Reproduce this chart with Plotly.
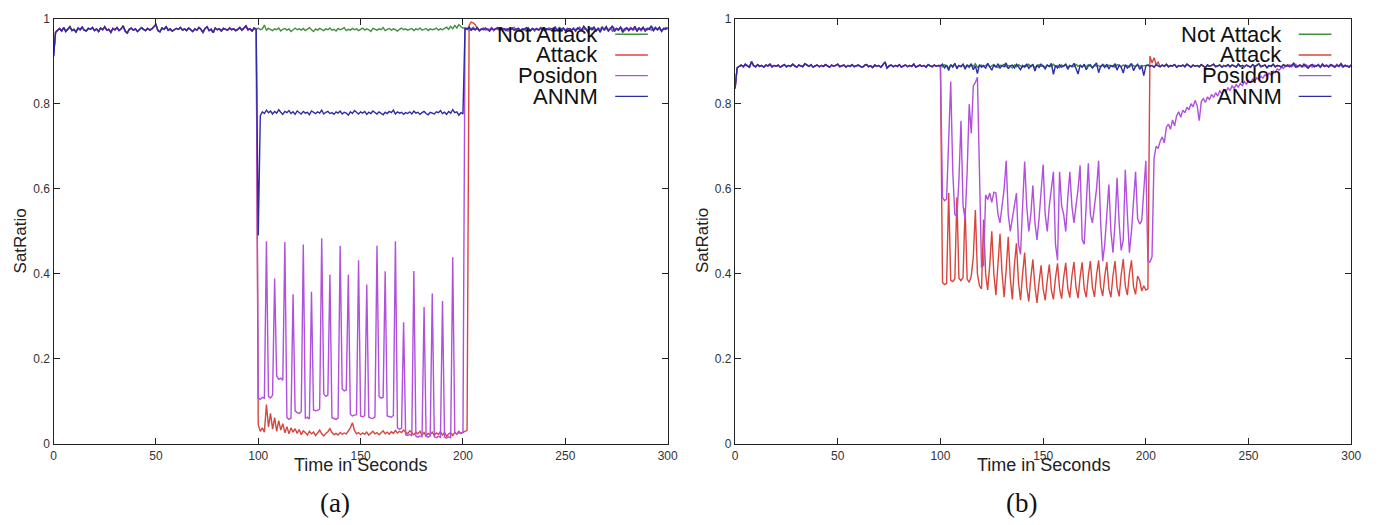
import plotly.graph_objects as go

# ---------------------------------------------------------------
# SatRatio traces, one sample per second.
# Each series is stored as segments: before attack (0-99 s),
# attack window (100-200 s) and recovery (201-300 s).
# ---------------------------------------------------------------

# ---------- panel (a) ----------
A_PRE = [0.912, 0.968, 0.973, 0.977, 0.971, 0.979, 0.970, 0.976, 0.981, 0.972,
         0.975, 0.969, 0.978, 0.974, 0.980, 0.973, 0.971, 0.977, 0.975, 0.979,
         0.972, 0.976, 0.970, 0.978, 0.974, 0.981, 0.973, 0.975, 0.968, 0.977,
         0.974, 0.979, 0.972, 0.976, 0.983, 0.971, 0.966, 0.975, 0.978, 0.973,
         0.976, 0.970, 0.974, 0.979, 0.975, 0.972, 0.977, 0.973, 0.976, 0.980,
         0.986, 0.972, 0.969, 0.978, 0.975, 0.981, 0.973, 0.976, 0.971, 0.974,
         0.977, 0.975, 0.979, 0.973, 0.976, 0.972, 0.978, 0.974, 0.970, 0.976,
         0.973, 0.979, 0.975, 0.968, 0.977, 0.981, 0.972, 0.975, 0.967, 0.978,
         0.974, 0.976, 0.971, 0.977, 0.975, 0.973, 0.978, 0.974, 0.976, 0.972,
         0.975, 0.979, 0.973, 0.977, 0.983, 0.974, 0.976, 0.971, 0.978, 0.975]

A_NOT_ATTACK_MID = [0.978, 0.974, 0.976, 0.985, 0.973, 0.977, 0.975, 0.972, 0.976, 0.974,
                    0.978, 0.971, 0.975, 0.977, 0.973, 0.976, 0.970, 0.975, 0.978, 0.974,
                    0.976, 0.973, 0.977, 0.972, 0.975, 0.979, 0.974, 0.970, 0.976, 0.973,
                    0.977, 0.975, 0.972, 0.976, 0.974, 0.978, 0.973, 0.975, 0.971, 0.977,
                    0.974, 0.976, 0.979, 0.972, 0.975, 0.973, 0.977, 0.974, 0.976, 0.972,
                    0.975, 0.978, 0.973, 0.976, 0.974, 0.970, 0.977, 0.975, 0.973, 0.976,
                    0.974, 0.979, 0.972, 0.975, 0.977, 0.973, 0.976, 0.974, 0.971, 0.975,
                    0.978, 0.974, 0.976, 0.973, 0.975, 0.977, 0.972, 0.976, 0.974, 0.978,
                    0.973, 0.975, 0.977, 0.972, 0.976, 0.974, 0.975, 0.978, 0.973, 0.976,
                    0.974, 0.977, 0.980, 0.975, 0.982, 0.976, 0.984, 0.978, 0.986, 0.981,
                    0.978]

A_ATTACK_MID = [0.045, 0.030, 0.038, 0.028, 0.093, 0.040, 0.072, 0.035, 0.062, 0.030,
                0.055, 0.033, 0.048, 0.026, 0.041, 0.024, 0.038, 0.028, 0.036, 0.025,
                0.034, 0.022, 0.031, 0.027, 0.021, 0.030, 0.024, 0.028, 0.020, 0.026,
                0.033, 0.024, 0.019, 0.025, 0.029, 0.036, 0.027, 0.022, 0.025, 0.021,
                0.027, 0.023, 0.026, 0.024, 0.030, 0.038, 0.050, 0.032, 0.024, 0.027,
                0.022, 0.026, 0.023, 0.028, 0.021, 0.025, 0.030, 0.024, 0.027, 0.022,
                0.026, 0.031, 0.024, 0.028, 0.023, 0.029, 0.025, 0.032, 0.026, 0.030,
                0.027, 0.033, 0.028, 0.024, 0.031, 0.027, 0.022, 0.028, 0.024, 0.030,
                0.021, 0.027, 0.019, 0.025, 0.022, 0.028, 0.020, 0.026, 0.023, 0.029,
                0.021, 0.027, 0.018, 0.024, 0.026, 0.020, 0.027, 0.023, 0.030, 0.025,
                0.028]

A_POSIDON_MID = [0.108, 0.105, 0.110, 0.108, 0.477, 0.112, 0.108, 0.115, 0.389, 0.160,
                 0.152, 0.155, 0.150, 0.475, 0.062, 0.058, 0.061, 0.352, 0.078, 0.074,
                 0.072, 0.076, 0.469, 0.060, 0.063, 0.059, 0.358, 0.080, 0.078, 0.079,
                 0.082, 0.484, 0.118, 0.112, 0.115, 0.398, 0.062, 0.060, 0.058, 0.061,
                 0.466, 0.130, 0.125, 0.127, 0.398, 0.070, 0.066, 0.068, 0.069, 0.432,
                 0.066, 0.064, 0.067, 0.375, 0.063, 0.061, 0.060, 0.064, 0.466, 0.112,
                 0.108, 0.110, 0.406, 0.066, 0.064, 0.063, 0.067, 0.477, 0.038, 0.035,
                 0.037, 0.286, 0.022, 0.020, 0.023, 0.019, 0.407, 0.018, 0.016, 0.019,
                 0.017, 0.322, 0.018, 0.016, 0.019, 0.354, 0.017, 0.015, 0.018, 0.016,
                 0.336, 0.016, 0.014, 0.017, 0.015, 0.439, 0.026, 0.024, 0.027, 0.025,
                 0.028]

A_ANNM_MID = [0.490, 0.772, 0.781, 0.777, 0.785, 0.779, 0.783, 0.776, 0.782, 0.778,
              0.786, 0.780, 0.775, 0.782, 0.779, 0.784, 0.777, 0.781, 0.775, 0.783,
              0.779, 0.776, 0.782, 0.778, 0.780, 0.774, 0.783, 0.779, 0.777, 0.781,
              0.778, 0.785, 0.776, 0.780, 0.782, 0.777, 0.779, 0.775, 0.781, 0.778,
              0.783, 0.776, 0.780, 0.778, 0.773, 0.781, 0.777, 0.784, 0.779, 0.776,
              0.781, 0.778, 0.782, 0.775, 0.780, 0.777, 0.783, 0.779, 0.776, 0.781,
              0.778, 0.774, 0.780, 0.777, 0.782, 0.779, 0.785, 0.776, 0.781, 0.778,
              0.780, 0.775, 0.779, 0.777, 0.781, 0.776, 0.783, 0.778, 0.780, 0.775,
              0.779, 0.782, 0.777, 0.774, 0.780, 0.778, 0.776, 0.781, 0.779, 0.784,
              0.777, 0.780, 0.775, 0.782, 0.778, 0.786, 0.779, 0.781, 0.773, 0.779,
              0.776]

A_POST_1 = [0.978, 0.975, 0.980, 0.973, 0.977, 0.974, 0.979, 0.972, 0.976, 0.974,
            0.978, 0.975, 0.971, 0.977, 0.974, 0.976, 0.979, 0.973, 0.975, 0.977,
            0.972, 0.976, 0.974, 0.978, 0.973, 0.975, 0.977, 0.971, 0.976, 0.974,
            0.979, 0.975, 0.972, 0.977, 0.974, 0.976, 0.973, 0.978, 0.975, 0.972,
            0.976, 0.974, 0.977, 0.975, 0.980, 0.973, 0.976, 0.974, 0.978, 0.972,
            0.975, 0.977, 0.974, 0.976, 0.971, 0.978, 0.975, 0.973, 0.982, 0.976,
            0.969, 0.978, 0.974, 0.980, 0.972, 0.977, 0.968, 0.979, 0.974, 0.981,
            0.971, 0.976, 0.983, 0.970, 0.977, 0.974, 0.980, 0.968, 0.976, 0.979,
            0.972, 0.977, 0.975, 0.982, 0.970, 0.978, 0.974, 0.980, 0.971, 0.977,
            0.975, 0.983, 0.972, 0.978, 0.974, 0.980, 0.970, 0.977, 0.975, 0.979]

A_POST_2 = [0.975, 0.978, 0.972, 0.976, 0.980, 0.974, 0.977, 0.971, 0.975, 0.978,
            0.973, 0.976, 0.974, 0.979, 0.972, 0.977, 0.975, 0.973, 0.978, 0.974,
            0.976, 0.971, 0.977, 0.975, 0.979, 0.973, 0.976, 0.974, 0.972, 0.977,
            0.975, 0.978, 0.973, 0.976, 0.971, 0.977, 0.974, 0.979, 0.972, 0.976,
            0.974, 0.978, 0.973, 0.977, 0.975, 0.972, 0.979, 0.974, 0.976, 0.973,
            0.977, 0.975, 0.972, 0.978, 0.974, 0.976, 0.980, 0.973, 0.975, 0.977,
            0.972, 0.976, 0.979, 0.974, 0.971, 0.977, 0.975, 0.980, 0.973, 0.976,
            0.974, 0.978, 0.971, 0.977, 0.975, 0.973, 0.979, 0.976, 0.972, 0.977,
            0.975, 0.979, 0.973, 0.976, 0.974, 0.978, 0.972, 0.977, 0.975, 0.974,
            0.978, 0.973, 0.976, 0.980, 0.974, 0.977, 0.972, 0.976, 0.979, 0.975]

# red recovers a couple of seconds later than the others (201-206 s)
A_ATTACK_POST_HEAD = [0.030, 0.032, 0.984, 0.992, 0.990, 0.986]

# ---------- panel (b) ----------
B_PRE = [0.836, 0.884, 0.888, 0.891, 0.887, 0.893, 0.889, 0.886, 0.899, 0.890,
         0.887, 0.892, 0.888, 0.890, 0.886, 0.891, 0.889, 0.893, 0.887, 0.890,
         0.888, 0.891, 0.886, 0.889, 0.892, 0.887, 0.890, 0.888, 0.893, 0.889,
         0.886, 0.891, 0.889, 0.887, 0.894, 0.890, 0.888, 0.892, 0.886, 0.889,
         0.891, 0.887, 0.890, 0.888, 0.892, 0.889, 0.886, 0.891, 0.888, 0.890,
         0.893, 0.887, 0.889, 0.891, 0.886, 0.890, 0.888, 0.892, 0.887, 0.889,
         0.891, 0.888, 0.886, 0.890, 0.892, 0.887, 0.889, 0.885, 0.891, 0.888,
         0.890, 0.886, 0.893, 0.898, 0.884, 0.889, 0.891, 0.887, 0.890, 0.888,
         0.892, 0.886, 0.889, 0.891, 0.887, 0.890, 0.888, 0.893, 0.886, 0.889,
         0.891, 0.888, 0.890, 0.886, 0.892, 0.889, 0.887, 0.891, 0.888, 0.890]

B_NOT_ATTACK_MID = [0.890, 0.887, 0.892, 0.888, 0.885, 0.891, 0.889, 0.893, 0.886, 0.890,
                    0.888, 0.892, 0.887, 0.890, 0.885, 0.891, 0.888, 0.894, 0.886, 0.889,
                    0.891, 0.887, 0.890, 0.893, 0.886, 0.889, 0.892, 0.888, 0.885, 0.891,
                    0.889, 0.893, 0.887, 0.890, 0.888, 0.884, 0.891, 0.887, 0.892, 0.889,
                    0.886, 0.890, 0.888, 0.893, 0.887, 0.891, 0.885, 0.889, 0.892, 0.888,
                    0.890, 0.886, 0.891, 0.889, 0.887, 0.893, 0.888, 0.890, 0.885, 0.891,
                    0.888, 0.892, 0.886, 0.890, 0.889, 0.887, 0.893, 0.888, 0.891, 0.886,
                    0.890, 0.887, 0.892, 0.889, 0.885, 0.891, 0.888, 0.890, 0.886, 0.893,
                    0.889, 0.887, 0.891, 0.888, 0.890, 0.886, 0.892, 0.889, 0.887, 0.891,
                    0.888, 0.890, 0.886, 0.892, 0.889, 0.887, 0.891, 0.888, 0.890, 0.889,
                    0.890]

B_ATTACK_MID = [0.886, 0.380, 0.375, 0.378, 0.590, 0.385, 0.382, 0.388, 0.580, 0.390,
                0.384, 0.392, 0.555, 0.388, 0.380, 0.395, 0.440, 0.550, 0.400, 0.372,
                0.365, 0.528, 0.400, 0.362, 0.420, 0.500, 0.400, 0.350, 0.420, 0.494,
                0.400, 0.345, 0.410, 0.487, 0.390, 0.340, 0.420, 0.472, 0.380, 0.338,
                0.400, 0.450, 0.370, 0.335, 0.390, 0.434, 0.370, 0.332, 0.380, 0.420,
                0.365, 0.338, 0.385, 0.422, 0.362, 0.340, 0.390, 0.425, 0.365, 0.342,
                0.392, 0.426, 0.366, 0.344, 0.395, 0.428, 0.368, 0.343, 0.393, 0.427,
                0.365, 0.345, 0.396, 0.430, 0.368, 0.346, 0.398, 0.432, 0.370, 0.348,
                0.395, 0.428, 0.366, 0.345, 0.396, 0.430, 0.368, 0.347, 0.398, 0.435,
                0.372, 0.350, 0.400, 0.432, 0.370, 0.352, 0.395, 0.385, 0.360, 0.372,
                0.362]

B_POSIDON_MID = [0.886, 0.580, 0.572, 0.576, 0.700, 0.852, 0.640, 0.540, 0.535, 0.620,
                 0.760, 0.560, 0.528, 0.640, 0.799, 0.730, 0.842, 0.850, 0.862, 0.640,
                 0.415, 0.420, 0.586, 0.575, 0.590, 0.568, 0.592, 0.590, 0.540, 0.520,
                 0.560, 0.600, 0.666, 0.540, 0.500, 0.530, 0.560, 0.590, 0.470, 0.446,
                 0.560, 0.664, 0.560, 0.500, 0.540, 0.608, 0.520, 0.480, 0.530, 0.600,
                 0.657, 0.540, 0.500, 0.560, 0.600, 0.640, 0.470, 0.432, 0.640, 0.560,
                 0.540, 0.500, 0.580, 0.640, 0.560, 0.520, 0.560, 0.600, 0.655, 0.480,
                 0.470, 0.560, 0.660, 0.540, 0.520, 0.560, 0.600, 0.666, 0.520, 0.430,
                 0.470, 0.540, 0.610, 0.500, 0.450, 0.520, 0.626, 0.520, 0.455, 0.480,
                 0.645, 0.540, 0.450, 0.500, 0.560, 0.640, 0.530, 0.517, 0.525, 0.600,
                 0.666]

B_ANNM_MID = [0.889, 0.893, 0.884, 0.891, 0.878, 0.892, 0.886, 0.895, 0.882, 0.890,
              0.887, 0.893, 0.881, 0.891, 0.888, 0.894, 0.880, 0.889, 0.871, 0.892,
              0.886, 0.890, 0.883, 0.895, 0.888, 0.879, 0.891, 0.886, 0.893, 0.884,
              0.890, 0.887, 0.896, 0.882, 0.889, 0.891, 0.884, 0.893, 0.887, 0.880,
              0.890, 0.886, 0.894, 0.883, 0.889, 0.892, 0.877, 0.891, 0.885, 0.893,
              0.888, 0.882, 0.891, 0.887, 0.895, 0.869, 0.890, 0.884, 0.892, 0.886,
              0.889, 0.893, 0.881, 0.890, 0.887, 0.895, 0.883, 0.870, 0.891, 0.886,
              0.893, 0.880, 0.889, 0.892, 0.884, 0.890, 0.896, 0.873, 0.888, 0.891,
              0.885, 0.893, 0.882, 0.890, 0.887, 0.894, 0.879, 0.891, 0.886, 0.872,
              0.892, 0.884, 0.890, 0.895, 0.878, 0.888, 0.893, 0.881, 0.889, 0.866,
              0.889]

B_POST = [0.891, 0.888, 0.890, 0.886, 0.892, 0.889, 0.887, 0.891, 0.888, 0.893,
          0.887, 0.890, 0.889, 0.892, 0.886, 0.890, 0.888, 0.891, 0.887, 0.893,
          0.889, 0.886, 0.891, 0.888, 0.890, 0.887, 0.892, 0.889, 0.885, 0.891,
          0.888, 0.890, 0.893, 0.887, 0.889, 0.891, 0.886, 0.890, 0.888, 0.892,
          0.887, 0.891, 0.889, 0.886, 0.893, 0.888, 0.890, 0.887, 0.891, 0.889,
          0.886, 0.892, 0.888, 0.890, 0.894, 0.887, 0.889, 0.891, 0.885, 0.890,
          0.888, 0.893, 0.887, 0.890, 0.889, 0.886, 0.892, 0.888, 0.891, 0.887,
          0.890, 0.895, 0.886, 0.889, 0.891, 0.887, 0.893, 0.888, 0.884, 0.890,
          0.892, 0.887, 0.889, 0.891, 0.886, 0.893, 0.888, 0.890, 0.887, 0.892,
          0.889, 0.886, 0.891, 0.888, 0.894, 0.887, 0.890, 0.889, 0.886, 0.891]

B_ATTACK_POST_HEAD = [0.365, 0.912, 0.896, 0.908, 0.892, 0.898]

# Posidon climbs back slowly after the attack ends (201-300 s)
B_POSIDON_POST = [0.430, 0.428, 0.440, 0.672, 0.700, 0.695, 0.712, 0.722, 0.708, 0.745,
                  0.752, 0.740, 0.762, 0.748, 0.772, 0.781, 0.768, 0.785, 0.779, 0.792,
                  0.786, 0.800, 0.793, 0.808, 0.795, 0.760, 0.805, 0.812, 0.803, 0.816,
                  0.810, 0.822, 0.815, 0.826, 0.818, 0.830, 0.824, 0.833, 0.827, 0.838,
                  0.831, 0.842, 0.836, 0.845, 0.839, 0.848, 0.843, 0.852, 0.846, 0.855,
                  0.850, 0.858, 0.853, 0.861, 0.856, 0.865, 0.860, 0.868, 0.864, 0.872,
                  0.868, 0.877, 0.873, 0.882, 0.879, 0.886, 0.883, 0.890, 0.888, 0.892,
                  0.887, 0.890, 0.893, 0.886, 0.891, 0.889, 0.887, 0.892, 0.888, 0.890,
                  0.886, 0.891, 0.889, 0.893, 0.887, 0.890, 0.888, 0.892, 0.886, 0.889,
                  0.891, 0.887, 0.893, 0.888, 0.890, 0.886, 0.891, 0.889, 0.887, 0.890]

SERIES_NAMES = ["Not Attack", "Attack", "Posidon", "ANNM"]
COLORS = {"Not Attack": "#3f8f3f", "Attack": "#d8453c",
          "Posidon": "#b050dc", "ANNM": "#2c2ca6"}

PRE_START, MID_START, POST_START = 0, 100, 201


def join(pre, mid, post):
    xs, ys = [], []
    for start, seg in ((PRE_START, pre), (MID_START, mid), (POST_START, post)):
        xs.extend(range(start, start + len(seg)))
        ys.extend(seg)
    return xs, ys


panel_a = {
    "Not Attack": join(A_PRE, A_NOT_ATTACK_MID, A_POST_1),
    "Attack": join(A_PRE, A_ATTACK_MID, A_ATTACK_POST_HEAD + A_POST_2[6:]),
    "Posidon": join(A_PRE, A_POSIDON_MID, A_POST_2),
    "ANNM": join(A_PRE, A_ANNM_MID, A_POST_1),
}
panel_b = {
    "Not Attack": join(B_PRE, B_NOT_ATTACK_MID, B_POST),
    "Attack": join(B_PRE, B_ATTACK_MID, B_ATTACK_POST_HEAD + B_POST[6:]),
    "Posidon": join(B_PRE, B_POSIDON_MID, B_POSIDON_POST),
    "ANNM": join(B_PRE, B_ANNM_MID, B_POST),
}

W, H = 1385, 525
fig = go.Figure()

for suffix, data in (("", panel_a), ("2", panel_b)):
    for name in SERIES_NAMES:
        xs, ys = data[name]
        fig.add_trace(go.Scatter(
            x=xs, y=ys, mode="lines", name=name, showlegend=False,
            line=dict(color=COLORS[name], width=1.4),
            xaxis="x" + suffix, yaxis="y" + suffix,
        ))


def px(x):
    return x / W


def py(y):
    return 1 - y / H


# plot boxes in pixels: (left, right), top/bottom shared
BOX_A = (51, 671)
BOX_B = (739, 1361)
TOP, BOTTOM = 12, 449

tick_font = dict(family="Liberation Sans, Arial, sans-serif", size=12, color="#333")
axis_common = dict(
    showline=True, linecolor="#222", linewidth=1.3, mirror="allticks",
    ticks="inside", ticklen=6, tickcolor="#222", tickwidth=1,
    showgrid=False, zeroline=False, tickfont=tick_font,
)

fig.update_layout(
    width=W, height=H, autosize=False,
    margin=dict(l=0, r=0, t=0, b=0),
    paper_bgcolor="white", plot_bgcolor="white",
    xaxis=dict(domain=[px(BOX_A[0]), px(BOX_A[1])], range=[0, 300], dtick=50,
               anchor="y", **axis_common),
    yaxis=dict(domain=[py(BOTTOM), py(TOP)], range=[0, 1], dtick=0.2,
               anchor="x", **axis_common),
    xaxis2=dict(domain=[px(BOX_B[0]), px(BOX_B[1])], range=[0, 300], dtick=50,
                anchor="y2", **axis_common),
    yaxis2=dict(domain=[py(BOTTOM), py(TOP)], range=[0, 1], dtick=0.2,
                anchor="x2", **axis_common),
)

label_font = dict(family="Liberation Sans, Arial, sans-serif", color="#222")
annotations = []
shapes = []
for (left, right), tag, tag_x in ((BOX_A, "(a)", 335), (BOX_B, "(b)", 1028)):
    mid = (left + right) / 2
    annotations.append(dict(text="Time in Seconds", x=px(mid), y=py(471),
                            xref="paper", yref="paper", showarrow=False,
                            xanchor="center", yanchor="middle",
                            font=dict(size=18, **label_font)))
    annotations.append(dict(text="SatRatio", x=px(left - 33), y=py(240),
                            xref="paper", yref="paper", showarrow=False,
                            textangle=-90, xanchor="center", yanchor="middle",
                            font=dict(size=17, **label_font)))
    annotations.append(dict(text=tag, x=px(tag_x), y=py(510),
                            xref="paper", yref="paper", showarrow=False,
                            xanchor="center", yanchor="middle",
                            font=dict(family="Liberation Serif, serif", size=27,
                                      color="#111")))
    # key: right-aligned labels with a short line sample to their right
    text_right = right - 68
    for i, name in enumerate(SERIES_NAMES):
        yy = 28 + 21.3 * i
        annotations.append(dict(text=name, x=px(text_right), y=py(yy),
                                xref="paper", yref="paper", showarrow=False,
                                xanchor="right", yanchor="middle",
                                font=dict(family="Liberation Sans, Arial, sans-serif",
                                          size=22, color="#111")))
        shapes.append(dict(type="line", xref="paper", yref="paper",
                           x0=px(right - 53), x1=px(right - 20),
                           y0=py(yy), y1=py(yy),
                           line=dict(color=COLORS[name], width=1.3)))

fig.update_layout(annotations=annotations, shapes=shapes)
fig.write_html("out.html")
